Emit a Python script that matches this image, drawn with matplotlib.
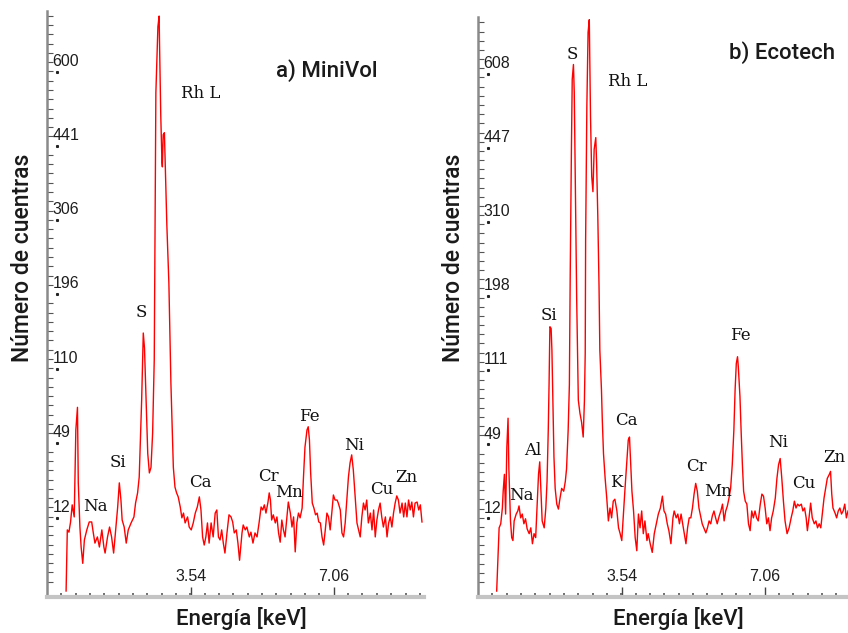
import numpy as np
import matplotlib
matplotlib.use('Agg')
import matplotlib.pyplot as plt
from matplotlib.ticker import FixedLocator, NullFormatter

# ---- data: spectrum a) MiniVol (energy keV, counts) ----
e_a = [0.47, 0.50, 0.54, 0.58, 0.62, 0.67, 0.71, 0.75, 0.77, 0.81,
       0.84, 0.88, 0.92, 0.98, 1.04, 1.10, 1.14, 1.18, 1.24, 1.29,
       1.35, 1.40, 1.43, 1.49, 1.54, 1.59, 1.64, 1.69, 1.74, 1.78,
       1.82, 1.85, 1.90, 1.95, 2.00, 2.07, 2.14, 2.18, 2.23, 2.27,
       2.30, 2.33, 2.37, 2.40, 2.44, 2.48, 2.52, 2.56, 2.60, 2.64,
       2.66, 2.68, 2.73, 2.76, 2.77, 2.80, 2.83, 2.84, 2.86, 2.89,
       2.91, 2.95, 3.00, 3.03, 3.05, 3.11, 3.15, 3.19, 3.23, 3.28,
       3.32, 3.36, 3.40, 3.46, 3.50, 3.55, 3.60, 3.65, 3.70, 3.75,
       3.79, 3.83, 3.87, 3.91, 3.95, 3.99, 4.04, 4.09, 4.14, 4.18,
       4.22, 4.26, 4.30, 4.34, 4.38, 4.43, 4.48, 4.53, 4.57, 4.61,
       4.66, 4.70, 4.74, 4.80, 4.83, 4.88, 4.92, 4.98, 5.02, 5.07,
       5.12, 5.17, 5.22, 5.27, 5.31, 5.35, 5.39, 5.44, 5.47, 5.50,
       5.53, 5.57, 5.62, 5.66, 5.70, 5.74, 5.78, 5.82, 5.86, 5.90,
       5.94, 5.99, 6.03, 6.07, 6.11, 6.15, 6.19, 6.23, 6.28, 6.31,
       6.35, 6.40, 6.43, 6.46, 6.49, 6.53, 6.57, 6.61, 6.65, 6.69,
       6.73, 6.77, 6.81, 6.85, 6.89, 6.93, 6.97, 7.01, 7.05, 7.09,
       7.14, 7.17, 7.22, 7.26, 7.30, 7.34, 7.38, 7.42, 7.46, 7.50,
       7.54, 7.59, 7.63, 7.67, 7.71, 7.75, 7.79, 7.83, 7.87, 7.91,
       7.96, 8.00, 8.04, 8.08, 8.12, 8.16, 8.20, 8.24, 8.28, 8.33,
       8.37, 8.41, 8.45, 8.49, 8.53, 8.57, 8.61, 8.65, 8.69, 8.74,
       8.78, 8.82, 8.86, 8.90, 8.94, 8.98, 9.02, 9.06, 9.11, 9.15,
       9.19, 9.23]
c_a = [0, 8.3, 7.7, 10.6, 16.5, 12.2, 57.7, 75, 26, 9.1,
       4.3, 1.7, 5.8, 8.3, 10.6, 10.6, 7.5, 5.1, 6.5, 4.3,
       8.3, 4.3, 3.2, 6.5, 9.1, 6.5, 3.2, 8.3, 15.7, 26,
       18.4, 11.2, 9.1, 5.1, 8.3, 10.3, 12.2, 17.2, 21.4, 28.9,
       50.7, 81, 148, 131, 81, 42, 31, 34, 55.5, 119,
       295, 552, 708, 735, 668, 504, 408, 400, 463, 467,
       404, 298, 211, 140, 96, 34, 24, 21.4, 19.7, 15.7,
       11.9, 13.5, 10.3, 12.2, 9.1, 8.3, 10.3, 13.5, 15.7, 19.7,
       14.6, 6.5, 4.7, 6.5, 10.3, 5.1, 10.3, 6.5, 13.5, 14.6,
       6.5, 5.8, 8.3, 5.1, 3.2, 7.5, 12.9, 12.2, 10.6, 7.5,
       8.3, 5.1, 2.1, 7.5, 9.7, 8.3, 9.1, 6.5, 7.7, 5.1,
       7.5, 6.5, 10.3, 15.7, 14.6, 16.5, 13.5, 17.6, 21.4, 18.4,
       11.2, 12.9, 10.3, 12.2, 7.5, 5.3, 11.2, 8.3, 6.5, 11.2,
       17.6, 13.5, 9.1, 12.2, 3.4, 10.3, 13.5, 11.9, 15.3, 27.4,
       46, 57.7, 60, 50.7, 31, 17.2, 15.3, 12.9, 13.5, 10.6,
       10.3, 6.5, 4.7, 8.3, 13.5, 12.2, 8.3, 13.5, 20.5, 18.4,
       18.4, 17.2, 14.6, 7.5, 6.5, 10.3, 18.4, 28.9, 36.5, 41.2,
       32.6, 18.4, 10.3, 8.3, 6.5, 12.2, 17.2, 14.6, 18.4, 10.3,
       13.5, 8.3, 14.6, 6.5, 11.2, 14.6, 17.2, 12.2, 9.1, 12.2,
       6.5, 10.3, 12.2, 9.1, 13.5, 17.2, 20.1, 18.4, 13.5, 17.2,
       12.2, 17.2, 12.2, 18.4, 14.6, 17.6, 12.2, 17.2, 17.6, 14.6,
       16.5, 10.6]

# ---- data: spectrum b) Ecotech ----
e_b = [0.46, 0.49, 0.52, 0.56, 0.60, 0.62, 0.65, 0.68, 0.71, 0.74,
       0.76, 0.80, 0.83, 0.86, 0.89, 0.94, 0.98, 1.01, 1.05, 1.09,
       1.13, 1.17, 1.21, 1.26, 1.30, 1.34, 1.38, 1.42, 1.45, 1.49,
       1.52, 1.55, 1.58, 1.63, 1.67, 1.70, 1.73, 1.75, 1.77, 1.80,
       1.82, 1.85, 1.87, 1.90, 1.94, 1.98, 2.02, 2.06, 2.11, 2.15,
       2.18, 2.22, 2.25, 2.27, 2.30, 2.32, 2.35, 2.37, 2.40, 2.43,
       2.47, 2.51, 2.55, 2.59, 2.62, 2.64, 2.65, 2.68, 2.71, 2.74,
       2.77, 2.80, 2.83, 2.86, 2.90, 2.92, 2.95, 2.98, 3.00, 3.04,
       3.06, 3.09, 3.13, 3.17, 3.21, 3.25, 3.29, 3.33, 3.37, 3.42,
       3.46, 3.50, 3.54, 3.58, 3.62, 3.66, 3.70, 3.73, 3.76, 3.79,
       3.83, 3.87, 3.91, 3.95, 3.99, 4.03, 4.07, 4.11, 4.16, 4.19,
       4.24, 4.29, 4.34, 4.39, 4.44, 4.49, 4.54, 4.58, 4.62, 4.66,
       4.70, 4.75, 4.80, 4.83, 4.88, 4.92, 4.96, 5.00, 5.04, 5.08,
       5.12, 5.16, 5.20, 5.24, 5.28, 5.32, 5.36, 5.40, 5.44, 5.49,
       5.52, 5.57, 5.61, 5.65, 5.69, 5.73, 5.77, 5.81, 5.85, 5.89,
       5.94, 5.98, 6.02, 6.06, 6.10, 6.14, 6.18, 6.22, 6.26, 6.30,
       6.33, 6.36, 6.39, 6.41, 6.45, 6.48, 6.51, 6.54, 6.58, 6.62,
       6.66, 6.70, 6.74, 6.78, 6.82, 6.86, 6.90, 6.95, 6.99, 7.03,
       7.07, 7.11, 7.15, 7.19, 7.23, 7.27, 7.32, 7.36, 7.40, 7.44,
       7.48, 7.52, 7.56, 7.61, 7.66, 7.71, 7.75, 7.79, 7.83, 7.87,
       7.91, 7.96, 8.00, 8.04, 8.08, 8.11, 8.15, 8.19, 8.23, 8.28,
       8.32, 8.36, 8.40, 8.44, 8.48, 8.52, 8.56, 8.60, 8.65, 8.68,
       8.71, 8.74, 8.79, 8.83, 8.87, 8.91, 8.95, 8.99, 9.03, 9.07,
       9.11]
c_b = [0, 2.1, 9.1, 10.3, 15.7, 22.7, 31, 13.5, 47, 68,
       34, 11.2, 6.5, 5.8, 11.2, 13.5, 14.6, 16.5, 12.2, 13.5,
       10.3, 11.9, 8.8, 7.5, 9.1, 5.1, 7.5, 6.5, 14.6, 31,
       38, 22.7, 11.2, 9.1, 15.7, 27.4, 59, 98, 159, 157,
       132, 72, 41, 24, 17.2, 15.3, 19.7, 24, 22.7, 27.4,
       34, 59, 97, 224, 444, 596, 631, 566, 349, 193,
       83, 72, 65, 54, 82, 129, 281, 534, 710, 743,
       513, 391, 363, 444, 468, 418, 319, 211, 132, 92,
       67, 43, 29, 19.7, 11.2, 15.7, 12.2, 18.4, 19.2, 14.6,
       9.1, 7.5, 5.8, 13.5, 24, 36.3, 52, 54, 36.3, 22.7,
       14.6, 6.5, 3.7, 13.5, 9.1, 14.6, 7.5, 11.2, 5.8, 7.5,
       5.1, 3.4, 7.5, 10.3, 13.5, 15.7, 20.5, 14.6, 13.5, 10.3,
       8.3, 5.1, 12.2, 14.6, 12.2, 13.5, 10.3, 13.5, 10.3, 7.5,
       5.1, 9.1, 12.2, 12.2, 15.7, 21.4, 26.4, 22.7, 15.7, 12.2,
       10.3, 8.8, 7.7, 9.1, 11.2, 10.3, 12.9, 14.6, 12.2, 10.3,
       12.9, 14.6, 17.2, 11.2, 14.6, 16.5, 19.7, 24, 36.3, 59,
       92, 118, 125, 114, 86, 57, 36.3, 22.7, 18.4, 17.2,
       10.3, 8.3, 14.6, 12.2, 14.6, 12.2, 11.2, 17.2, 21.4, 20.5,
       15.7, 10.3, 12.2, 8.3, 12.2, 14.6, 19.7, 28.9, 36.3, 40,
       28.9, 18.4, 11.2, 7.5, 9.1, 12.2, 14.6, 18.4, 15.7, 17.2,
       16.5, 17.2, 14.6, 15.7, 12.2, 8.3, 12.2, 17.6, 12.2, 10.3,
       11.2, 9.1, 10.3, 9.1, 13.9, 19.7, 24, 28.9, 31, 32.6,
       21.4, 15.7, 13.9, 12.2, 14.6, 15.7, 13.5, 14.6, 17.2, 12.2,
       14.6]

# y tick values printed on each axis
yt_a = [12, 49, 110, 196, 306, 441, 600]
yt_b = [12, 49, 111, 198, 310, 447, 608]
xt = [3.54, 7.06]
xt_labels = ['3.54', '7.06']

# element labels (name, energy, counts where the label sits)
el_a = ['Rh L', 'S', 'Na', 'Si', 'Ca', 'Cr', 'Mn', 'Fe', 'Ni', 'Cu', 'Zn']
el_a_e = [3.79, 2.32, 1.18, 1.75, 3.77, 5.44, 5.96, 6.45, 7.56, 8.23, 8.84]
el_a_c = [550, 173, 15.7, 36.5, 26, 29.4, 21.4, 67.4, 46.8, 22.7, 28.4]
el_b = ['S', 'Rh L', 'Si', 'Al', 'Na', 'K', 'Ca', 'Cr', 'Mn', 'Fe', 'Ni', 'Cu', 'Zn']
el_b_e = [2.31, 3.69, 1.75, 1.35, 1.06, 3.40, 3.66, 5.39, 5.91, 6.47, 7.40, 8.03, 8.78]
el_b_c = [654, 590, 173, 45, 20.8, 26.8, 66.3, 35.4, 22.6, 149, 50.3, 26.4, 40.6]

plt.rcParams['font.family'] = ['Liberation Sans', 'DejaVu Sans']
head = ['Roboto', 'Liberation Sans', 'DejaVu Sans']


def fwd(y):
    return np.sign(y) * np.sqrt(np.abs(y))


def inv(y):
    return np.sign(y) * y ** 2


fig = plt.figure(figsize=(8.48, 6.33), dpi=100)
ax1 = fig.add_axes([47 / 848, 36 / 633, 377 / 848, 586 / 633])
ax2 = fig.add_axes([478 / 848, 36 / 633, 370 / 848, 580 / 633])

panels = [(ax1, e_a, c_a, yt_a, 748, 9.28, el_a, el_a_e, el_a_c),
          (ax2, e_b, c_b, yt_b, 750, 9.11, el_b, el_b_e, el_b_c)]

for ax, e, c, yt, ytop, xmax, names, ne, nc in panels:
    ax.plot(e, c, color='#ff0000', lw=1.0)
    ax.set_yscale('function', functions=(fwd, inv))
    ax.set_ylim(-0.08, ytop)
    ax.set_xlim(0, xmax)

    for s in ['top', 'right']:
        ax.spines[s].set_visible(False)
    ax.spines['left'].set_color('#8a8a8a')
    ax.spines['left'].set_linewidth(1.8)
    ax.spines['bottom'].set_color('#c4c4c4')
    ax.spines['bottom'].set_linewidth(3)

    # y axis: many small ticks, labels drawn inside the plot
    ax.set_yticks(yt)
    ax.yaxis.set_major_formatter(NullFormatter())
    ax.yaxis.set_minor_locator(FixedLocator((np.arange(1, 64) * 0.4375) ** 2))
    ax.yaxis.set_minor_formatter(NullFormatter())
    ax.tick_params(axis='y', which='major', length=0)
    ax.tick_params(axis='y', which='minor', direction='in', length=4,
                   width=0.8, color='#555555')
    ax.plot([0.027] * len(yt), yt, transform=ax.get_yaxis_transform(),
            ls='none', marker='s', ms=1.2, color='#222222', clip_on=False)
    for v in yt:
        ax.annotate(str(v), xy=(0, v), xycoords=('axes fraction', 'data'),
                    xytext=(4, 2), textcoords='offset points',
                    ha='left', va='bottom', fontsize=11.5, color='#1e1e1e')

    # x axis
    ax.set_xticks(xt)
    ax.set_xticklabels(xt_labels)
    ax.xaxis.set_minor_locator(FixedLocator(np.arange(1, 27) * 0.353))
    ax.tick_params(axis='x', which='major', direction='in', length=7,
                   width=1.0, color='#444444', pad=-20, labelsize=11.5,
                   labelcolor='#1e1e1e')
    ax.tick_params(axis='x', which='minor', direction='in', length=3,
                   width=1.2, color='#555555')

    for name, x, y in zip(names, ne, nc):
        ax.text(x, y, name, family='DejaVu Serif', fontsize=12,
                ha='center', va='center', color='#111111')

ax1.text(0.743, 0.898, 'a) MiniVol', transform=ax1.transAxes, ha='center',
         va='center', fontsize=16, family=head, fontweight='medium',
         color='#1a1a1a')
ax2.text(0.822, 0.939, 'b) Ecotech', transform=ax2.transAxes, ha='center',
         va='center', fontsize=16, family=head, fontweight='medium',
         color='#1a1a1a')

for xl in [23 / 848, 454 / 848]:
    fig.text(xl, 1 - 258 / 633, 'Número de cuentras', rotation=90,
             ha='center', va='center', fontsize=16.5, family=head,
             fontweight='medium', color='#1a1a1a')
for xl in [241 / 848, 678 / 848]:
    fig.text(xl, 14 / 633, 'Energía [keV]', ha='center', va='center',
             fontsize=16, family=head, fontweight='medium', color='#1a1a1a')

fig.savefig('out.png', dpi=100)
